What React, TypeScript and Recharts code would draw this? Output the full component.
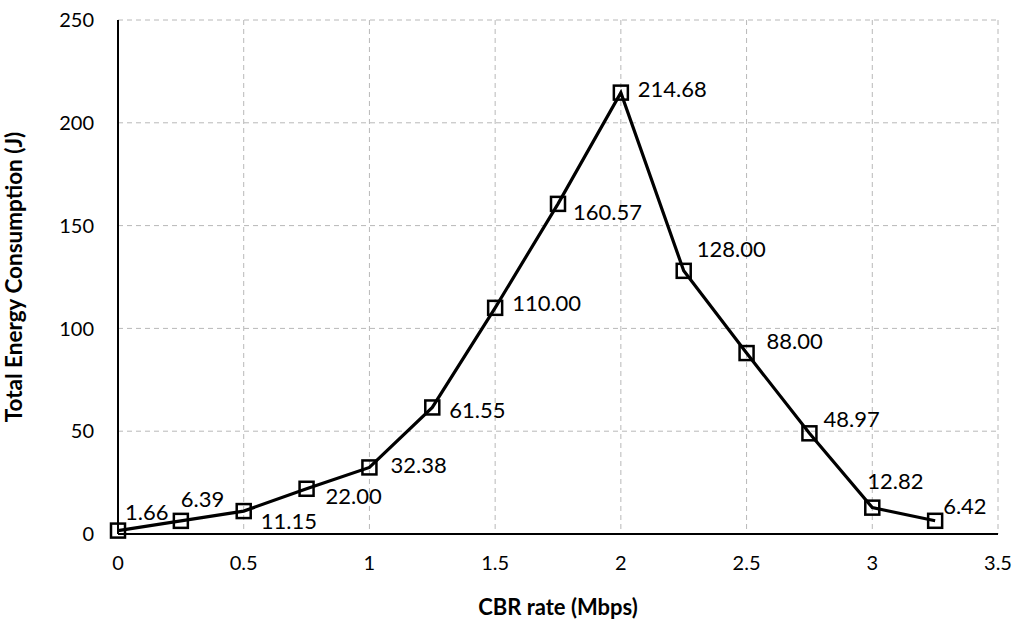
import React from 'react';
import { LineChart, Line, XAxis, YAxis, CartesianGrid, LabelList } from 'recharts';

const rates = [0, 0.25, 0.5, 0.75, 1, 1.25, 1.5, 1.75, 2, 2.25, 2.5, 2.75, 3, 3.25];
const energy = [1.66, 6.39, 11.15, 22.0, 32.38, 61.55, 110.0, 160.57, 214.68, 128.0, 88.0, 48.97, 12.82, 6.42];
const xTicks = [0, 0.5, 1, 1.5, 2, 2.5, 3, 3.5];
const yTicks = [0, 50, 100, 150, 200, 250];

// label offsets (dx, dy from the marker centre), hand-placed like the original
const labelOffsets: [number, number][] = [
  [7, -19], [0, -22], [17, 9], [19, 7], [21, -3], [17, 2], [17, -5],
  [15, 8], [17, -4], [13, -22], [20, -13], [14, -15], [-5, -27], [8, -15],
];

const data = rates.map((r, i) => ({ rate: r, energy: energy[i] }));

const FONT = 'Lato, "Open Sans", sans-serif';

const SquareDot = (props: any) => {
  const { cx, cy, index } = props;
  if (cx == null || cy == null) return null;
  return (
    <rect key={`sq-${index}`} x={cx - 7} y={cy - 7} width={14} height={14}
      fill="none" stroke="#000" strokeWidth={2.5} />
  );
};

const ValueLabel = (props: any) => {
  const { x, y, index } = props;
  const [dx, dy] = labelOffsets[index] || [10, 0];
  return (
    <text x={x + dx} y={y + dy} dominantBaseline="central" textAnchor="start"
      fontSize={22} fontFamily={FONT} fill="#000">
      {energy[index].toFixed(2)}
    </text>
  );
};

export default function App() {
  return (
    <div style={{ position: 'absolute', left: 0, top: 0, width: 1024, height: 633, background: '#fff' }}>
      <LineChart width={1024} height={633} data={data}
        margin={{ top: 20, right: 26, left: 0, bottom: 0 }}>
        <CartesianGrid stroke="#b8b8b8" strokeDasharray="5 4" />
        <XAxis dataKey="rate" type="number" domain={[0, 3.5]} ticks={xTicks}
          height={99} tickLine={false} axisLine={{ stroke: '#000', strokeWidth: 2 }}
          tick={{ fill: '#000', fontSize: 20, fontFamily: FONT }} tickMargin={16}
          label={{ value: 'CBR rate (Mbps)', position: 'insideBottom', offset: 18,
            style: { fill: '#000', fontSize: 22, fontWeight: 'bold', fontFamily: FONT } }} />
        <YAxis type="number" domain={[0, 250]} ticks={yTicks} width={118}
          tickLine={false} axisLine={{ stroke: '#000', strokeWidth: 2 }}
          tick={{ fill: '#000', fontSize: 20, fontFamily: FONT }} tickMargin={18}
          label={{ value: 'Total Energy Consumption (J)', angle: -90, position: 'insideLeft', offset: 14,
            style: { textAnchor: 'middle', fill: '#000', fontSize: 22.5, fontWeight: 'bold', fontFamily: FONT } }} />
        <Line type="linear" dataKey="energy" stroke="#000" strokeWidth={3.2}
          dot={<SquareDot />} activeDot={false} isAnimationActive={false}>
          <LabelList dataKey="energy" content={<ValueLabel />} />
        </Line>
      </LineChart>
    </div>
  );
}
